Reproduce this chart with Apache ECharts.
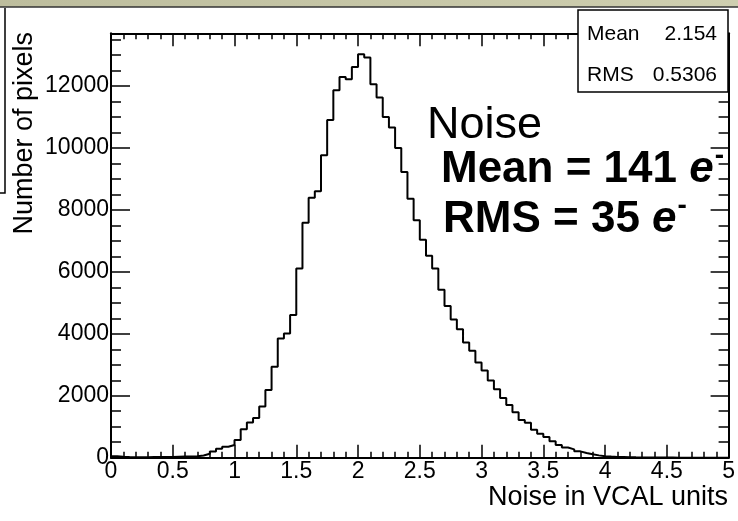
<!DOCTYPE html>
<html>
<head>
<meta charset="utf-8">
<script src="https://cdn.jsdelivr.net/npm/echarts@6/dist/echarts.min.js"></script>
<style>
html,body{margin:0;padding:0;background:#fff;}
#chart{width:738px;height:521px;}
</style>
</head>
<body>
<div id="chart"></div>
<script>
// ---- data ----
const binStart = 0;
const binWidth = 0.05;
const counts = [
  45, 30, 20, 15, 15, 15, 20, 20, 25, 25, 30, 35, 40, 50, 70, 125, 200, 290, 355, 410,
  571, 915, 1140, 1280, 1655, 2184, 2935, 3845, 4013, 4603, 6109, 7581, 8395, 8603, 9765, 10900, 11860, 12290, 12216, 12613,
  13023, 12916, 12055, 11626, 11000, 10658, 10000, 9226, 8360, 7668, 7035, 6520, 6109, 5420, 4893, 4464, 4145, 3715, 3452, 3070,
  2815, 2490, 2210, 1925, 1700, 1465, 1216, 1129, 905, 776, 665, 530, 410, 330, 270, 205, 150, 110, 75, 50,
  35, 25, 20, 15, 12, 10, 8, 6, 5, 4, 3, 2, 2, 1, 1, 0, 0, 0, 0, 0
];
const xRange = [0, 5];
const yRange = [0, 13700];
const xTitle = 'Noise in VCAL units';
const yTitle = 'Number of pixels';
const statNames = ['Mean', 'RMS'];
const statValues = ['2.154', '0.5306'];
const noteTitle = 'Noise';
const noteLines = [['Mean = 141 ', 'e'], ['RMS = 35 ', 'e']];

// ---- build ----
const FONT = '"Liberation Sans", Arial, Helvetica, sans-serif';
const stepData = counts.map((c, i) => [binStart + i * binWidth, c]);
stepData.push([binStart + counts.length * binWidth, counts[counts.length - 1]]);

const chart = echarts.init(document.getElementById('chart'), null, {renderer: 'canvas'});

const axisLine = {show: true, onZero: false, lineStyle: {color: '#000', width: 2}};
const noLine = {show: false, onZero: false};
function tick(len) { return {show: true, inside: true, length: len, lineStyle: {color: '#000', width: 1.5}}; }

const meas = document.createElement('canvas').getContext('2d');
function textW(font, s) { meas.font = font; return meas.measureText(s).width; }

const graphics = [
  {type: 'rect', shape: {x: 0, y: 0, width: 738, height: 7}, style: {fill: new echarts.graphic.LinearGradient(0,0,1,0,[{offset:0,color:'#bdbd9d'},{offset:1,color:'#cfcfb0'}])}, z: 100},
  {type: 'line', shape: {x1: 0, y1: 7, x2: 738, y2: 7}, style: {stroke: '#333', lineWidth: 1.5}, z: 100},
  {type: 'polyline', shape: {points: [[5, 8], [5, 193], [0, 193]]}, style: {stroke: '#000', lineWidth: 1.5, fill: null}, z: 100},
  {type: 'rect', shape: {x: 578, y: 10, width: 150, height: 82}, style: {fill: '#fff', stroke: '#000', lineWidth: 1.5}, z: 100},
  {type: 'text', x: 728, y: 498, style: {text: xTitle, font: '27px ' + FONT, fill: '#000', align: 'right', verticalAlign: 'middle'}, z: 100},
  {type: 'text', x: 24.5, y: 32, rotation: Math.PI / 2, style: {text: yTitle, font: '27px ' + FONT, fill: '#000', align: 'right', verticalAlign: 'middle'}, z: 100},
  {type: 'text', x: 427, y: 126, style: {text: noteTitle, font: '45px ' + FONT, fill: '#000', align: 'left', verticalAlign: 'middle'}, z: 100}
];
statNames.forEach((n, i) => {
  const y = i === 0 ? 34 : 75.5;
  graphics.push({type: 'text', x: 587, y: y, style: {text: n, font: '21px ' + FONT, fill: '#000', align: 'left', verticalAlign: 'middle'}, z: 101});
  graphics.push({type: 'text', x: 717, y: y, style: {text: statValues[i], font: '21px ' + FONT, fill: '#000', align: 'right', verticalAlign: 'middle'}, z: 101});
});
const noteX = [441, 443];
const noteY = [170, 220];
noteLines.forEach((pair, i) => {
  const fb = 'bold 44px ' + FONT, fi = 'italic bold 44px ' + FONT;
  graphics.push({type: 'text', x: noteX[i], y: noteY[i], style: {
    text: '{b|' + pair[0] + '}{i|' + pair[1] + '}',
    rich: {b: {font: fb, fill: '#000'}, i: {font: fi, fill: '#000'}},
    align: 'left', verticalAlign: 'middle'}, z: 100});
  const w = textW(fb, pair[0]) + textW(fi, pair[1]);
  graphics.push({type: 'text', x: noteX[i] + w + 1, y: noteY[i] - 14, style: {text: '-', font: 'bold 28px ' + FONT, fill: '#000', align: 'left', verticalAlign: 'middle'}, z: 100});
});

const minor5 = {show: true, splitNumber: 5, length: 6, lineStyle: {color: '#000', width: 1.5}};
const option = {
  backgroundColor: '#fff',
  animation: false,
  grid: {left: 111, right: 9, top: 33.3, bottom: 63.3, containLabel: false},
  xAxis: [
    {type: 'value', position: 'bottom', min: xRange[0], max: xRange[1], interval: 0.5,
     axisLine: axisLine, axisTick: tick(13), minorTick: minor5,
     splitLine: {show: false}, minorSplitLine: {show: false},
     axisLabel: {show: true, color: '#000', fontSize: 23, fontFamily: FONT, margin: 2, formatter: v => String(v)}},
    {type: 'value', position: 'top', min: xRange[0], max: xRange[1], interval: 0.5,
     axisLine: axisLine, axisTick: tick(13), minorTick: minor5,
     splitLine: {show: false}, axisLabel: {show: false}}
  ],
  yAxis: [
    {type: 'value', position: 'left', min: yRange[0], max: yRange[1], interval: 2000,
     axisLine: axisLine, axisTick: tick(19), splitLine: {show: false},
     axisLabel: {show: true, color: '#000', fontSize: 23, fontFamily: FONT, margin: 2, showMaxLabel: false, formatter: v => String(v)}},
    {type: 'value', position: 'left', min: yRange[0], max: yRange[1], interval: 500,
     axisLine: noLine, axisTick: tick(10), splitLine: {show: false}, axisLabel: {show: false}},
    {type: 'value', position: 'right', min: yRange[0], max: yRange[1], interval: 2000,
     axisLine: axisLine, axisTick: tick(18), splitLine: {show: false}, axisLabel: {show: false}},
    {type: 'value', position: 'right', min: yRange[0], max: yRange[1], interval: 500,
     axisLine: noLine, axisTick: tick(10), splitLine: {show: false}, axisLabel: {show: false}}
  ],
  series: [{
    type: 'line', xAxisIndex: 0, yAxisIndex: 0, step: 'end', data: stepData,
    showSymbol: false, symbol: 'none', clip: true,
    lineStyle: {color: '#000', width: 2}, silent: true
  }],
  graphic: graphics
};
chart.setOption(option);
</script>
</body>
</html>
